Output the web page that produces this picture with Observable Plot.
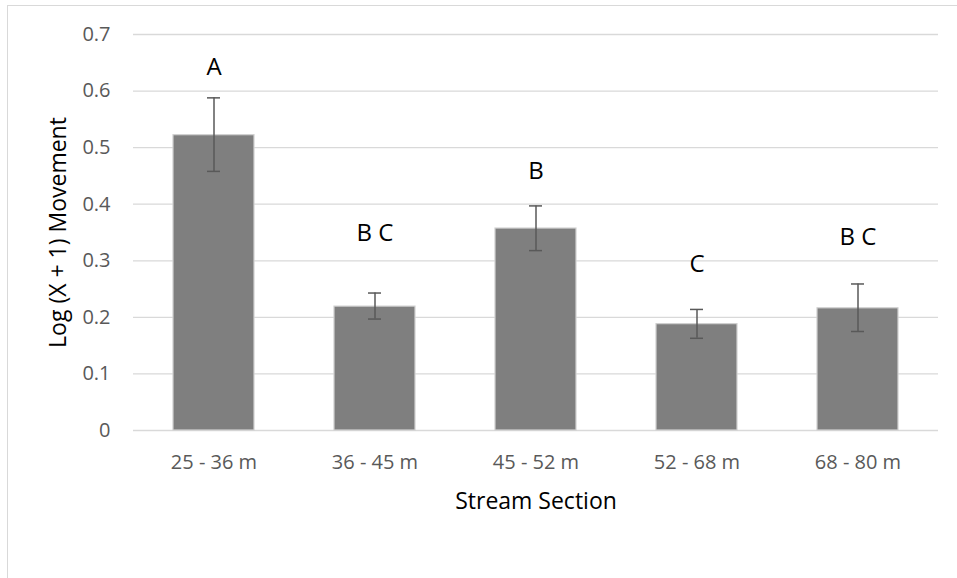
<!DOCTYPE html>
<html>
<head>
<meta charset="utf-8">
<script src="https://cdn.jsdelivr.net/npm/d3@7"></script>
<script src="https://cdn.jsdelivr.net/npm/@observablehq/plot@0.6"></script>
<style>
  html, body { margin: 0; padding: 0; background: #fff; overflow: hidden; }
  #wrap { position: relative; width: 957px; height: 578px; }
  #frame { position: absolute; left: 7px; top: 5px; width: 1000px; height: 1000px; border: 1.5px solid #d9d9d9; box-sizing: border-box; }
  #chart { position: absolute; left: 0; top: 0; }
</style>
</head>
<body>
<div id="wrap"><div id="frame"></div><div id="chart"></div></div>
<script>
const sections = ["25 - 36 m", "36 - 45 m", "45 - 52 m", "52 - 68 m", "68 - 80 m"];
const means    = [0.522, 0.219, 0.357, 0.188, 0.216];
const errLow   = [0.458, 0.197, 0.318, 0.163, 0.175];
const errHigh  = [0.588, 0.243, 0.397, 0.214, 0.259];
const letters  = ["A", "B C", "B", "C", "B C"];
const letterY  = [0.642, 0.348, 0.459, 0.294, 0.341];
const yTicks   = [0, 0.1, 0.2, 0.3, 0.4, 0.5, 0.6, 0.7];
const xTitle = "Stream Section";
const yTitle = "Log (X + 1) Movement";

const data = sections.map((s, i) => ({
  section: s, mean: means[i], lo: errLow[i], hi: errHigh[i], letter: letters[i], ly: letterY[i]
}));

const font = "'Open Sans', sans-serif";

const chart = Plot.plot({
  width: 957,
  height: 578,
  marginLeft: 133,
  marginRight: 19,
  marginTop: 34,
  marginBottom: 148,
  style: { fontFamily: font, background: "transparent", overflow: "visible" },
  x: { domain: sections, paddingInner: 0.5, paddingOuter: 0.25, label: null },
  y: { domain: [0, 0.7], label: null },
  marks: [
    Plot.gridY(yTicks, { stroke: "#d9d9d9", strokeOpacity: 1, strokeWidth: 1.3 }),
    Plot.axisY({ ticks: yTicks, tickSize: 0, tickPadding: 23, fontSize: 20, fill: "#595959", label: null, tickFormat: d => String(d) }),
    Plot.axisX({ tickSize: 0, tickPadding: 24, fontSize: 20, fill: "#595959", label: null }),
    Plot.barY(data, { x: "section", y: "mean", fill: "#7f7f7f", stroke: "#d0d0d0", strokeWidth: 1.2 }),
    Plot.ruleX(data, { x: "section", y1: "lo", y2: "hi", stroke: "#595959", strokeWidth: 1.5 }),
    Plot.tickY(data, { x: "section", y: "hi", stroke: "#595959", strokeWidth: 1.5, insetLeft: 34, insetRight: 34 }),
    Plot.tickY(data, { x: "section", y: "lo", stroke: "#595959", strokeWidth: 1.5, insetLeft: 34, insetRight: 34 }),
    Plot.text(data, { x: "section", y: "ly", text: "letter", fontSize: 24, fill: "#000", lineAnchor: "middle" }),
    Plot.text([xTitle], { text: d => d, frameAnchor: "bottom", dy: 78, lineAnchor: "bottom", textAnchor: "middle", fontSize: 23, fill: "#000" }),
    Plot.text([yTitle], { text: d => d, frameAnchor: "left", dx: -75, rotate: -90, textAnchor: "middle", lineAnchor: "middle", fontSize: 23, fill: "#000" })
  ]
});
document.getElementById("chart").appendChild(chart);
</script>
</body>
</html>
